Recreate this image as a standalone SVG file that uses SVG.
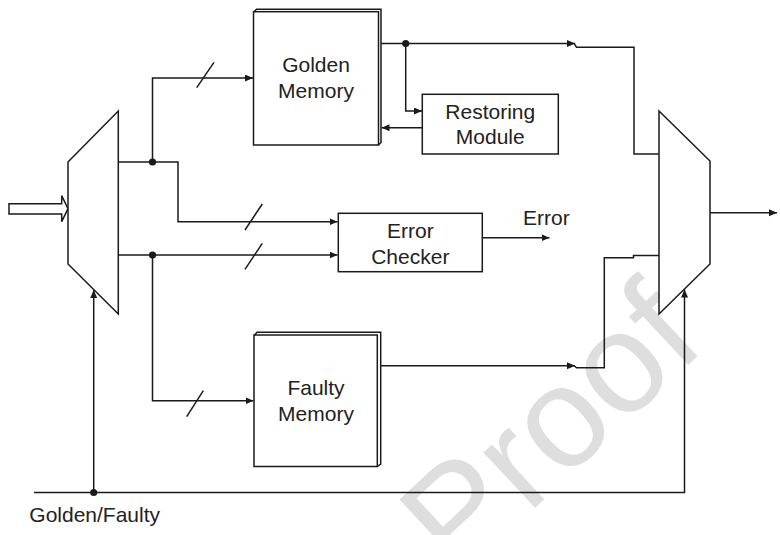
<svg xmlns="http://www.w3.org/2000/svg" width="780" height="535" viewBox="0 0 780 535">
  <defs>
    <marker id="arrow" markerUnits="userSpaceOnUse" markerWidth="9" markerHeight="8" refX="8" refY="3.5" orient="auto">
      <path d="M0,0 L8,3.5 L0,7 z" fill="#1a1a1a"/>
    </marker>
    <style>
      .box { fill: #fff; stroke: #1a1a1a; stroke-width: 1.5; }
      .edge { fill: none; stroke: #1a1a1a; stroke-width: 1.5; }
      .wire { fill: none; stroke: #1a1a1a; stroke-width: 1.5; }
      .dot { fill: #1a1a1a; }
      .lbl { font-family: "Liberation Sans", Arial, sans-serif; font-size: 21px; fill: #222; }
      .mid { text-anchor: middle; }
      .mark { font-family: "Liberation Sans", Arial, sans-serif; font-size: 143px; fill: #dedede; text-anchor: middle; }
    </style>
  </defs>

  <rect width="780" height="535" fill="#fff"/>

  <!-- background stamp -->
  <text class="mark" transform="translate(583,463) rotate(-43)">Proof</text>

  <!-- connectors -->
  <g id="connectors">
    <!-- bus input into the demultiplexer -->
    <path class="box" d="M9,203.7 H61.7 V195.7 L68,208.7 L61.7,221.7 V214 H9 Z" stroke-width="1.3"/>
    <!-- golden branch -->
    <path class="wire" d="M118,162 H178 V221.7 H337.5" marker-end="url(#arrow)"/>
    <path class="wire" d="M152.5,162 V78 H253" marker-end="url(#arrow)"/>
    <!-- faulty branch -->
    <path class="wire" d="M118,255 H337.5" marker-end="url(#arrow)"/>
    <path class="wire" d="M152.5,255 V400.7 H253.5" marker-end="url(#arrow)"/>
    <!-- bus width slashes -->
    <path class="wire" d="M196.7,87.7 L214,62.3"/>
    <path class="wire" d="M245,230 L262.3,204"/>
    <path class="wire" d="M245,269.3 L262.3,243.3"/>
    <path class="wire" d="M186.7,416.7 L203.3,390.7"/>
    <!-- golden memory output and restore loop -->
    <path class="wire" d="M381,43.5 H575" marker-end="url(#arrow)"/>
    <path class="wire" d="M574.5,44 L576.5,47.3 H634 V154 H659"/>
    <path class="wire" d="M405.7,43.5 V111 H422" marker-end="url(#arrow)"/>
    <path class="wire" d="M422,127.7 H381.5" marker-end="url(#arrow)"/>
    <!-- faulty memory output -->
    <path class="wire" d="M380.7,365.7 H575" marker-end="url(#arrow)"/>
    <path class="wire" d="M574.5,366 L576.5,367.7 H604.3 V257.7 H633.5 V255.5 H659"/>
    <!-- error flag -->
    <path class="wire" d="M482.3,237.7 H549.5" marker-end="url(#arrow)"/>
    <!-- multiplexer output -->
    <path class="wire" d="M710,212.7 H777" marker-end="url(#arrow)"/>
    <!-- select line -->
    <path class="wire" d="M34,492.5 H684.5 V289.5" marker-end="url(#arrow)"/>
    <path class="wire" d="M93.7,492.5 V290" marker-end="url(#arrow)"/>
    <!-- junctions -->
    <circle class="dot" cx="152.5" cy="162" r="3.6"/>
    <circle class="dot" cx="152.5" cy="255" r="3.6"/>
    <circle class="dot" cx="405.7" cy="43.5" r="3.6"/>
    <circle class="dot" cx="93.7" cy="492.5" r="3.6"/>
  </g>

  <!-- demultiplexer -->
  <g id="demux">
    <path class="box" d="M68,162 L118.3,111 V314 L68,264 Z"/>
  </g>

  <!-- output multiplexer -->
  <g id="mux">
    <path class="box" d="M659,111 L710,161 V264 L659,314 Z"/>
  </g>

  <!-- golden memory -->
  <g id="golden-memory">
    <rect class="box" x="253.5" y="11.7" width="125" height="133.3"/>
    <path class="edge" d="M254,11.7 L256.5,9.2 H381 V142.5 L378.5,145"/>
    <text class="lbl mid" x="316" y="71.7">Golden</text>
    <text class="lbl mid" x="316" y="97.5">Memory</text>
  </g>

  <!-- restoring module -->
  <g id="restoring-module">
    <rect class="box" x="422.3" y="94.3" width="136" height="59.7"/>
    <text class="lbl mid" x="490.3" y="119.3">Restoring</text>
    <text class="lbl mid" x="490.3" y="144.3">Module</text>
  </g>

  <!-- error checker -->
  <g id="error-checker">
    <rect class="box" x="338.3" y="213.3" width="144" height="58.4"/>
    <text class="lbl mid" x="410.3" y="238.3">Error</text>
    <text class="lbl mid" x="410.3" y="264">Checker</text>
  </g>

  <!-- faulty memory -->
  <g id="faulty-memory">
    <rect class="box" x="254" y="335" width="123.3" height="131.5"/>
    <path class="edge" d="M254.5,335 L257,332.3 H380.7 V464 L377.3,466.5"/>
    <text class="lbl mid" x="316" y="395">Faulty</text>
    <text class="lbl mid" x="316" y="420.7">Memory</text>
  </g>

  <!-- free labels -->
  <g id="labels">
    <text class="lbl" x="523" y="225">Error</text>
    <text class="lbl" x="29.3" y="521.7">Golden/Faulty</text>
  </g>
</svg>
